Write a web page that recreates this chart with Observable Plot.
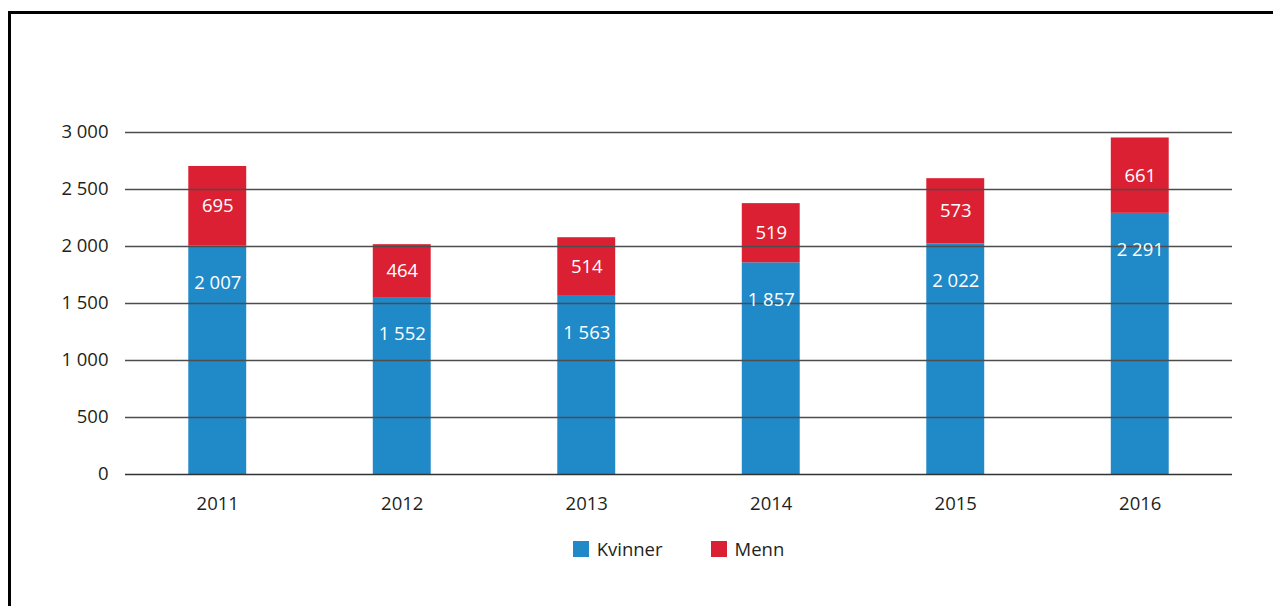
<!DOCTYPE html>
<html>
<head>
<meta charset="utf-8">
<script src="https://cdn.jsdelivr.net/npm/d3@7"></script>
<script src="https://cdn.jsdelivr.net/npm/@observablehq/plot@0.6"></script>
<style>
  html, body { margin: 0; padding: 0; background: #fff; }
  body { width: 1273px; height: 606px; position: relative; overflow: hidden; font-family: "Open Sans", sans-serif; }
  #frame { position: absolute; left: 8px; top: 11px; width: 1400px; height: 700px; border-left: 3px solid #000; border-top: 3px solid #000; }
  #chart { position: absolute; left: 0; top: 0; }
  #legend { position: absolute; left: 125px; width: 1107px; top: 536px; display: flex; justify-content: center; align-items: center; font-size: 18.5px; color: #231f20; }
  .item { display: flex; align-items: center; }
  .sw { width: 16px; height: 16px; margin-right: 8px; }
</style>
</head>
<body>
<div id="frame"></div>
<div id="chart"></div>
<div id="legend"></div>
<script>
const years = ["2011", "2012", "2013", "2014", "2015", "2016"];
const kvinner = [2007, 1552, 1563, 1857, 2022, 2291];
const menn = [695, 464, 514, 519, 573, 661];
const seriesNames = ["Kvinner", "Menn"];
const seriesColors = ["#2089c8", "#dc2033"];
const yTicks = [0, 500, 1000, 1500, 2000, 2500, 3000];

const fmt = d3.formatLocale({decimal: ",", thousands: " ", grouping: [3], currency: ["", ""]}).format(",d");

const rows = [];
years.forEach((y, i) => {
  rows.push({year: y, series: seriesNames[0], value: kvinner[i]});
  rows.push({year: y, series: seriesNames[1], value: menn[i]});
});
const kRows = rows.filter(d => d.series === "Kvinner");

const chart = Plot.plot({
  width: 1273,
  height: 525,
  marginLeft: 125,
  marginRight: 41,
  marginTop: 132,
  marginBottom: 51,
  style: {fontFamily: "'Open Sans', sans-serif", fontSize: "18.5px", color: "#231f20", background: "transparent"},
  x: {domain: years, round: false, paddingInner: 0.686, paddingOuter: 0.343, label: null, tickSize: 0, tickPadding: 22},
  y: {domain: [0, 3000], ticks: yTicks, label: null, tickSize: 0, tickPadding: 17, tickFormat: fmt},
  color: {domain: seriesNames, range: seriesColors},
  marks: [
    Plot.barY(rows, {x: "year", y: "value", fill: "series", order: seriesNames}),
    Plot.ruleY(yTicks.slice(1), {stroke: "#4d4d4d", strokeWidth: 1.3}),
    Plot.ruleY([0], {stroke: "#333", strokeWidth: 1.3}),
    Plot.text(rows, Plot.stackY({x: "year", y: "value", z: "series", order: seriesNames, text: d => d.series === "Menn" ? fmt(d.value) : null, fill: "white", fontSize: 18.5})),
    Plot.text(kRows, {x: "year", y: "value", dy: 37, text: d => fmt(d.value), fill: "white", fontSize: 18.5})
  ]
});
document.getElementById("chart").appendChild(chart);

const legend = document.getElementById("legend");
seriesNames.forEach((n, i) => {
  const it = document.createElement("div");
  it.className = "item";
  if (i > 0) it.style.marginLeft = "48px";
  const sw = document.createElement("div");
  sw.className = "sw";
  sw.style.background = seriesColors[i];
  const t = document.createElement("span");
  t.textContent = n;
  it.appendChild(sw); it.appendChild(t);
  legend.appendChild(it);
});
</script>
</body>
</html>
